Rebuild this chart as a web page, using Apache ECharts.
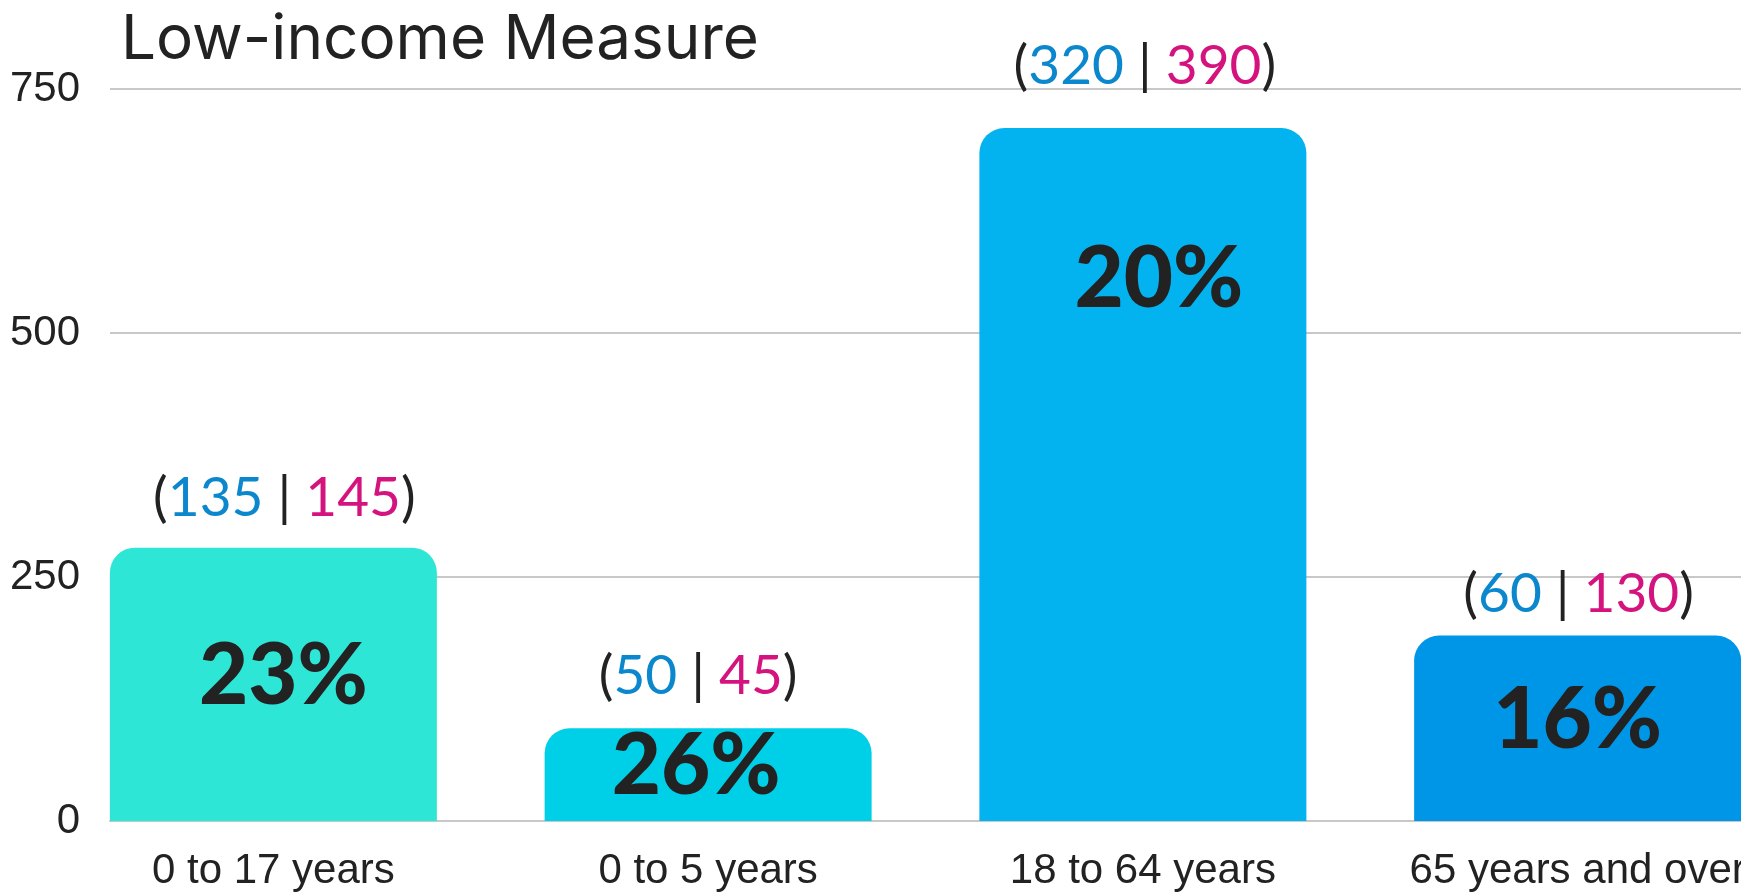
<!DOCTYPE html>
<html>
<head>
<meta charset="utf-8">
<script src="https://cdn.jsdelivr.net/npm/echarts@6/dist/echarts.min.js"></script>
<style>
  html, body { margin: 0; padding: 0; background: #ffffff; }
  #frame { width: 1741px; height: 896px; overflow: hidden; }
  #chart { width: 1800px; height: 896px; }
</style>
</head>
<body>
<div id="frame"><div id="chart"></div></div>
<script>
// ---- data ----
const chartTitle = 'Low-income Measure';
const categories = ['0 to 17 years', '0 to 5 years', '18 to 64 years', '65 years and over'];
const barValues = [280, 95, 710, 190];
const blueCounts = [135, 50, 320, 60];
const pinkCounts = [145, 45, 390, 130];
const percentLabels = ['23%', '26%', '20%', '16%'];
const yMin = 0;
const yMax = 750;
const yStep = 250;

// ---- styles ----
const barColors = ['#2EE6D6', '#00CFE8', '#03B3F0', '#0096E8'];
const blueText = '#0A87CD';
const pinkText = '#D4137F';
const darkText = '#222222';
const gridColor = '#C8C8C8';
// small hand placement of the annotation labels, as in the reference
const topLabelDistance = [22, 25, 34, 14];
const topLabelShiftX = [11, -10, 2, 1];
const innerLabelShiftX = [10, -12, 16, 0];

const chart = echarts.init(document.getElementById('chart'), null, { renderer: 'canvas' });

const plotTop = 89;
const plotHeight = 732;

const mainData = barValues.map((v, i) => ({
  value: v,
  itemStyle: { color: barColors[i] },
  label: v > 400
    ? { position: 'insideTop', distance: 109, offset: [innerLabelShiftX[i], 0] }
    : { position: 'inside', offset: [innerLabelShiftX[i], -8] }
}));

const topData = barValues.map((v, i) => ({
  value: v,
  label: { distance: topLabelDistance[i], offset: [topLabelShiftX[i], 0] }
}));

const option = {
  backgroundColor: '#ffffff',
  animation: false,
  title: {
    text: chartTitle,
    left: 116,
    top: 4,
    textStyle: { fontFamily: 'Inter', fontWeight: 400, fontSize: 62, color: darkText }
  },
  grid: [
    { left: 110, top: plotTop, width: 1631, height: plotHeight, containLabel: false },
    { left: 56, top: plotTop, width: 1739, height: plotHeight, containLabel: false }
  ],
  xAxis: [
    {
      type: 'category', gridIndex: 0, data: categories,
      axisLine: { show: true, lineStyle: { color: gridColor, width: 2 } },
      axisTick: { show: false }, axisLabel: { show: false }, splitLine: { show: false }
    },
    {
      type: 'category', gridIndex: 1, data: categories,
      axisLine: { show: false }, axisTick: { show: false },
      axisLabel: {
        show: true, interval: 0, margin: 29,
        fontFamily: 'Liberation Sans', fontSize: 42, color: darkText
      }
    }
  ],
  yAxis: [
    {
      type: 'value', gridIndex: 0, min: yMin, max: yMax, interval: yStep,
      axisLine: { show: false }, axisTick: { show: false },
      axisLabel: { margin: 30, fontFamily: 'Liberation Sans', fontSize: 42, color: darkText },
      splitLine: { show: true, lineStyle: { color: gridColor, width: 2 } }
    },
    {
      type: 'value', gridIndex: 1, min: yMin, max: yMax, interval: yStep, show: false
    }
  ],
  series: [
    {
      type: 'bar', xAxisIndex: 1, yAxisIndex: 1,
      barWidth: 327, barGap: '-100%',
      itemStyle: { borderRadius: [25, 25, 0, 0] },
      data: mainData,
      label: {
        show: true,
        formatter: (p) => percentLabels[p.dataIndex],
        fontFamily: 'Lato', fontWeight: 900, fontSize: 85, color: darkText
      },
      z: 3
    },
    {
      type: 'bar', xAxisIndex: 1, yAxisIndex: 1,
      barWidth: 327, barGap: '-100%',
      itemStyle: { color: 'rgba(0,0,0,0)' },
      data: topData,
      silent: true,
      label: {
        show: true, position: 'top',
        formatter: (p) => '{p|(}{b|' + blueCounts[p.dataIndex] + '}{s||}{r|' + pinkCounts[p.dataIndex] + '}{p|)}',
        rich: {
          p: { fontFamily: 'Lato', fontSize: 55, color: darkText },
          s: { fontFamily: 'Lato', fontSize: 55, color: darkText, padding: [0, 14, 0, 14] },
          b: { fontFamily: 'Lato', fontSize: 55, color: blueText },
          r: { fontFamily: 'Lato', fontSize: 55, color: pinkText }
        }
      },
      z: 4
    }
  ]
};

chart.setOption(option);
</script>
</body>
</html>
